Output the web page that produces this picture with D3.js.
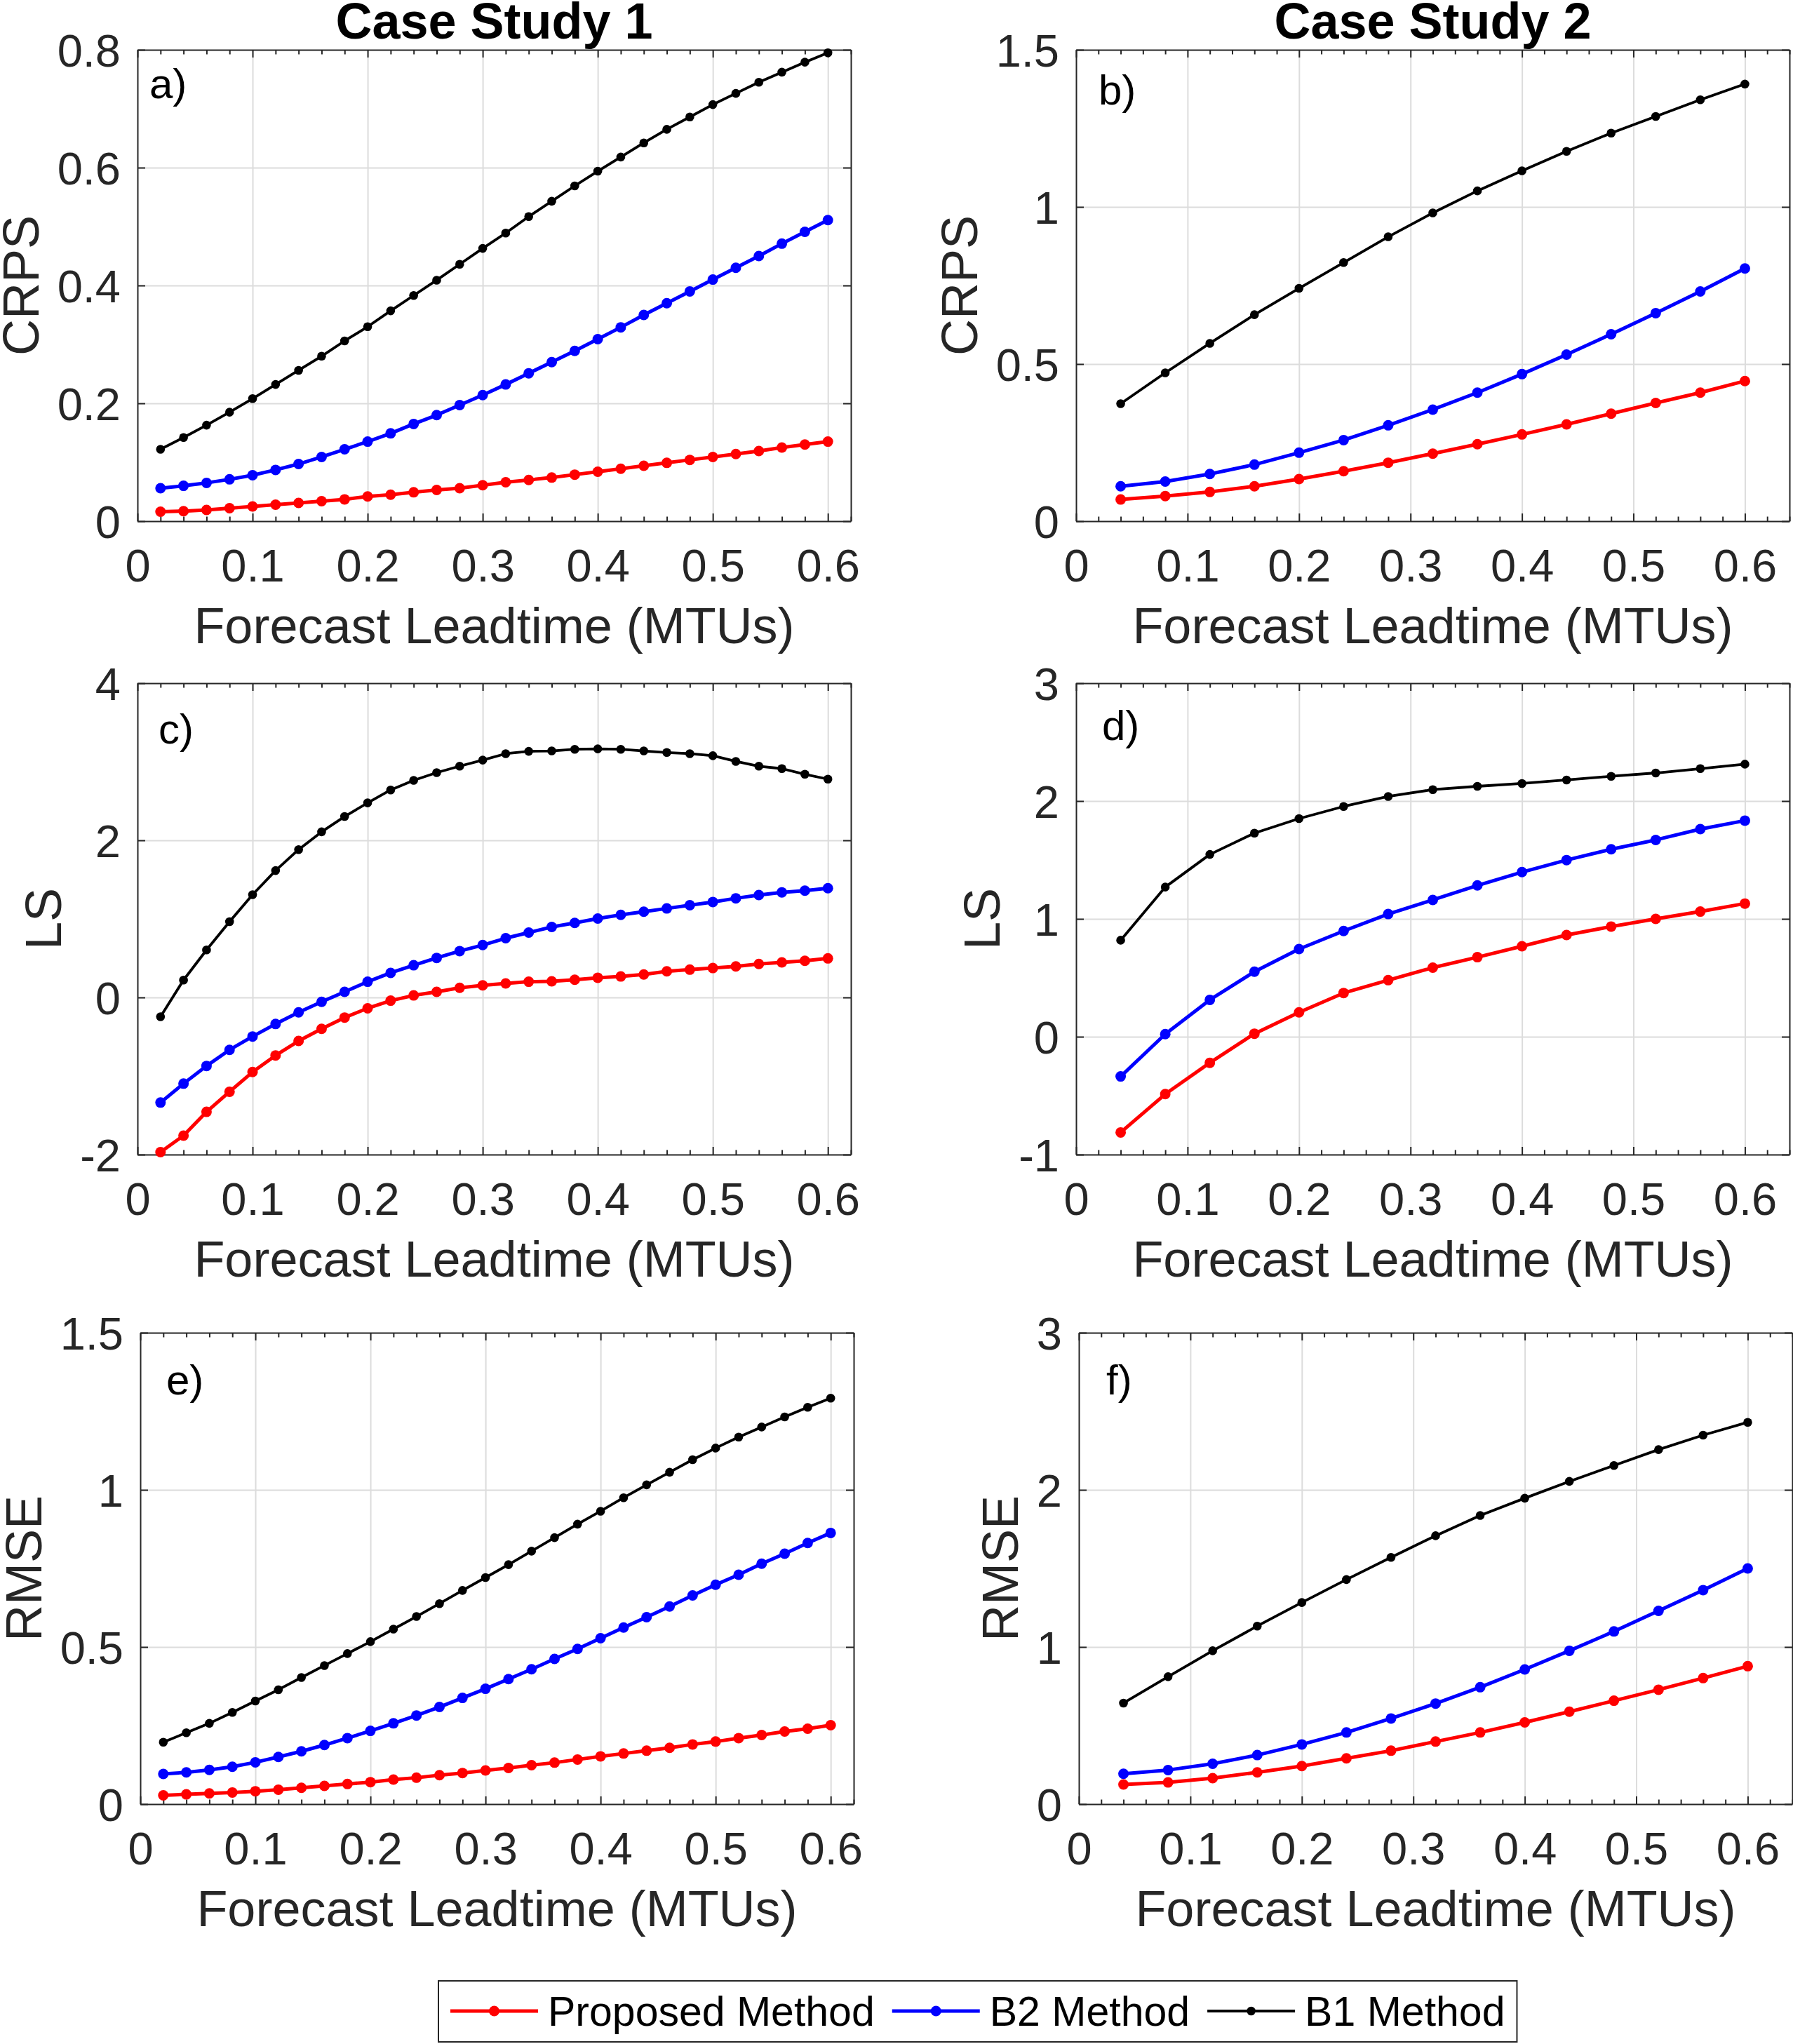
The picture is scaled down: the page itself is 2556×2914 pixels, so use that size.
<!DOCTYPE html>
<html>
<head>
<meta charset="utf-8">
<script src="https://cdn.jsdelivr.net/npm/d3@7"></script>
<style>
  html, body { margin: 0; padding: 0; background: #ffffff; }
  svg { display: block; }
</style>
</head>
<body>
<script>
// ---------------- DATA ----------------
const leadCase1 = [0.02,0.04,0.06,0.08,0.10,0.12,0.14,0.16,0.18,0.20,0.22,0.24,0.26,0.28,0.30,0.32,0.34,0.36,0.38,0.40,0.42,0.44,0.46,0.48,0.50,0.52,0.54,0.56,0.58,0.60];
const leadCase2 = [0.04,0.08,0.12,0.16,0.20,0.24,0.28,0.32,0.36,0.40,0.44,0.48,0.52,0.56,0.60];

const seriesNames = ["Proposed Method", "B2 Method", "B1 Method"];

const crpsCase1Proposed = [0.016,0.017,0.019,0.022,0.025,0.028,0.031,0.034,0.037,0.042,0.045,0.049,0.053,0.056,0.061,0.066,0.070,0.074,0.079,0.084,0.089,0.094,0.099,0.104,0.109,0.114,0.119,0.125,0.130,0.135];
const crpsCase1B2 = [0.056,0.060,0.065,0.071,0.078,0.087,0.097,0.109,0.122,0.135,0.149,0.165,0.180,0.197,0.214,0.232,0.251,0.270,0.289,0.309,0.329,0.350,0.370,0.390,0.410,0.430,0.450,0.471,0.491,0.511];
const crpsCase1B1 = [0.122,0.142,0.163,0.185,0.208,0.232,0.256,0.280,0.306,0.330,0.357,0.383,0.409,0.436,0.463,0.489,0.517,0.543,0.569,0.594,0.618,0.642,0.665,0.686,0.707,0.726,0.745,0.762,0.779,0.795];

const crpsCase2Proposed = [0.069,0.080,0.093,0.111,0.134,0.159,0.186,0.215,0.245,0.276,0.308,0.342,0.376,0.409,0.446];
const crpsCase2B2 = [0.111,0.126,0.150,0.180,0.218,0.258,0.305,0.355,0.409,0.468,0.530,0.595,0.662,0.731,0.804];
const crpsCase2B1 = [0.374,0.472,0.566,0.657,0.741,0.823,0.905,0.981,1.051,1.115,1.177,1.235,1.288,1.341,1.391];

const lsCase1Proposed = [-1.969,-1.759,-1.456,-1.200,-0.949,-0.738,-0.554,-0.400,-0.256,-0.138,-0.041,0.026,0.072,0.123,0.154,0.179,0.200,0.205,0.226,0.251,0.267,0.292,0.333,0.354,0.374,0.395,0.426,0.446,0.467,0.497];
const lsCase1B2 = [-1.338,-1.097,-0.872,-0.667,-0.497,-0.338,-0.190,-0.056,0.072,0.200,0.313,0.410,0.503,0.590,0.667,0.754,0.826,0.897,0.949,1.005,1.051,1.092,1.133,1.174,1.215,1.262,1.303,1.338,1.359,1.390];
const lsCase1B1 = [-0.246,0.221,0.605,0.964,1.308,1.615,1.882,2.108,2.303,2.477,2.641,2.764,2.862,2.944,3.021,3.103,3.133,3.138,3.159,3.164,3.159,3.138,3.118,3.103,3.077,3.005,2.944,2.913,2.841,2.779];

const lsCase2Proposed = [-0.812,-0.487,-0.221,0.026,0.207,0.371,0.480,0.586,0.675,0.768,0.863,0.935,1.000,1.062,1.130];
const lsCase2B2 = [-0.337,0.022,0.313,0.552,0.744,0.897,1.041,1.161,1.284,1.397,1.499,1.591,1.670,1.762,1.834];
const lsCase2B1 = [0.819,1.270,1.547,1.728,1.851,1.954,2.039,2.097,2.125,2.149,2.179,2.210,2.238,2.275,2.313];

const rmseCase1Proposed = [0.028,0.031,0.034,0.037,0.041,0.046,0.052,0.058,0.064,0.070,0.078,0.084,0.092,0.099,0.107,0.115,0.124,0.132,0.142,0.152,0.161,0.170,0.179,0.190,0.199,0.210,0.220,0.231,0.240,0.251];
const rmseCase1B2 = [0.096,0.101,0.109,0.119,0.133,0.150,0.168,0.188,0.210,0.233,0.257,0.282,0.309,0.338,0.367,0.398,0.429,0.462,0.494,0.528,0.562,0.595,0.629,0.664,0.698,0.730,0.765,0.797,0.831,0.863];
const rmseCase1B1 = [0.197,0.227,0.257,0.292,0.328,0.364,0.403,0.441,0.479,0.517,0.557,0.597,0.638,0.680,0.721,0.762,0.805,0.848,0.891,0.932,0.975,1.016,1.056,1.096,1.133,1.168,1.200,1.232,1.263,1.292];

const rmseCase2Proposed = [0.125,0.138,0.165,0.202,0.242,0.291,0.340,0.398,0.456,0.520,0.588,0.658,0.728,0.802,0.878];
const rmseCase2B2 = [0.193,0.217,0.257,0.312,0.380,0.456,0.545,0.640,0.744,0.857,0.976,1.099,1.230,1.362,1.500];
const rmseCase2B1 = [0.643,0.811,0.976,1.133,1.283,1.429,1.570,1.708,1.837,1.947,2.054,2.155,2.256,2.348,2.430];

// tick values and labels
const xTickValues = [0,0.1,0.2,0.3,0.4,0.5,0.6];
const xTickLabels = ["0","0.1","0.2","0.3","0.4","0.5","0.6"];
const yTicksCrps1 = [0,0.2,0.4,0.6,0.8];
const yLabelsCrps1 = ["0","0.2","0.4","0.6","0.8"];
const yTicksCrps2 = [0,0.5,1,1.5];
const yLabelsCrps2 = ["0","0.5","1","1.5"];
const yTicksLs1 = [-2,0,2,4];
const yLabelsLs1 = ["-2","0","2","4"];
const yTicksLs2 = [-1,0,1,2,3];
const yLabelsLs2 = ["-1","0","1","2","3"];
const yTicksRmse1 = [0,0.5,1,1.5];
const yLabelsRmse1 = ["0","0.5","1","1.5"];
const yTicksRmse2 = [0,1,2,3];
const yLabelsRmse2 = ["0","1","2","3"];

const titles = ["Case Study 1", "Case Study 2"];
const xAxisTitle = "Forecast Leadtime (MTUs)";

// ---------------- LAYOUT / STYLE ----------------
const W = 2556, H = 2914;
const PW = 1017, PH = 672;
const FONT = "'Liberation Sans', Arial, Helvetica, sans-serif";
const AX = "#262626";
const GRID = "#dcdcdc";
const colors = ["#ff0000", "#0000ff", "#000000"];
const lineWidths = [5, 5, 3.8];
const markerR = [7.5, 7.5, 6.3];

const panels = [
  {left:196, top:71,  xmax:0.62, ydom:[0,0.8], yt:yTicksCrps1, yl:yLabelsCrps1, ylabel:"CRPS", letter:"a)", ldx:17, ldy:69, x:leadCase1, ys:[crpsCase1Proposed, crpsCase1B2, crpsCase1B1], title:titles[0]},
  {left:1534, top:71, xmax:0.64, ydom:[0,1.5], yt:yTicksCrps2, yl:yLabelsCrps2, ylabel:"CRPS", letter:"b)", ldx:32, ldy:78, x:leadCase2, ys:[crpsCase2Proposed, crpsCase2B2, crpsCase2B1], title:titles[1]},
  {left:196, top:974, xmax:0.62, ydom:[-2,4], yt:yTicksLs1, yl:yLabelsLs1, ylabel:"LS", letter:"c)", ldx:30, ldy:86, x:leadCase1, ys:[lsCase1Proposed, lsCase1B2, lsCase1B1]},
  {left:1534, top:974, xmax:0.64, ydom:[-1,3], yt:yTicksLs2, yl:yLabelsLs2, ylabel:"LS", letter:"d)", ldx:37, ldy:81, x:leadCase2, ys:[lsCase2Proposed, lsCase2B2, lsCase2B1]},
  {left:200, top:1900, xmax:0.62, ydom:[0,1.5], yt:yTicksRmse1, yl:yLabelsRmse1, ylabel:"RMSE", letter:"e)", ldx:37, ldy:88, x:leadCase1, ys:[rmseCase1Proposed, rmseCase1B2, rmseCase1B1]},
  {left:1538, top:1900, xmax:0.64, ydom:[0,3], yt:yTicksRmse2, yl:yLabelsRmse2, ylabel:"RMSE", letter:"f)", ldx:39, ldy:88, x:leadCase2, ys:[rmseCase2Proposed, rmseCase2B2, rmseCase2B1]}
];

const svg = d3.select("body").append("svg")
  .attr("width", W).attr("height", H)
  .attr("viewBox", `0 0 ${W} ${H}`);
svg.append("rect").attr("width", W).attr("height", H).attr("fill", "#ffffff");

function styleAxis(g, fontSize) {
  g.attr("font-family", FONT).attr("font-size", fontSize);
  g.selectAll("path.domain").attr("stroke", AX).attr("stroke-width", 2);
  g.selectAll(".tick line").attr("stroke", AX).attr("stroke-width", 2);
  g.selectAll(".tick text").attr("fill", AX);
}

panels.forEach(p => {
  const x = d3.scaleLinear().domain([0, p.xmax]).range([p.left, p.left + PW]);
  const y = d3.scaleLinear().domain(p.ydom).range([p.top + PH, p.top]);
  const g = svg.append("g");
  const bottom = p.top + PH, right = p.left + PW;

  // grid
  const gx = g.append("g").attr("transform", `translate(0,${bottom})`)
    .call(d3.axisBottom(x).tickValues(xTickValues.filter(v => v > 0)).tickSize(-PH).tickFormat(""));
  gx.select(".domain").remove();
  gx.selectAll(".tick line").attr("stroke", GRID).attr("stroke-width", 2);
  const gy = g.append("g").attr("transform", `translate(${p.left},0)`)
    .call(d3.axisLeft(y).tickValues(p.yt.filter(v => v > p.ydom[0] && v < p.ydom[1])).tickSize(-PW).tickFormat(""));
  gy.select(".domain").remove();
  gy.selectAll(".tick line").attr("stroke", GRID).attr("stroke-width", 2);

  // minor ticks (x) bottom & top
  const minor = d3.range(1, Math.round(p.xmax / 0.02) + 1).map(i => +(i * 0.02).toFixed(2)).filter(v => Math.abs(v * 10 - Math.round(v * 10)) > 1e-6);
  const mb = g.append("g").attr("transform", `translate(0,${bottom})`)
    .call(d3.axisBottom(x).tickValues(minor).tickSizeInner(-6.5).tickSizeOuter(0).tickFormat(""));
  mb.select(".domain").remove();
  styleAxis(mb, 65);
  const mt = g.append("g").attr("transform", `translate(0,${p.top})`)
    .call(d3.axisTop(x).tickValues(minor).tickSizeInner(-6.5).tickSizeOuter(0).tickFormat(""));
  mt.select(".domain").remove();
  styleAxis(mt, 65);

  // major axes
  const ab = g.append("g").attr("transform", `translate(0,${bottom})`)
    .call(d3.axisBottom(x).tickValues(xTickValues).tickSizeInner(-11).tickSizeOuter(0).tickPadding(40)
      .tickFormat((d, i) => xTickLabels[i]));
  styleAxis(ab, 65);
  const at = g.append("g").attr("transform", `translate(0,${p.top})`)
    .call(d3.axisTop(x).tickValues(xTickValues).tickSizeInner(-11).tickSizeOuter(0).tickFormat(""));
  styleAxis(at, 65);
  const al = g.append("g").attr("transform", `translate(${p.left},0)`)
    .call(d3.axisLeft(y).tickValues(p.yt).tickSizeInner(-11).tickSizeOuter(0).tickPadding(24)
      .tickFormat((d, i) => p.yl[i]));
  styleAxis(al, 65);
  al.selectAll(".tick text").attr("dy", "0.36em");
  const ar = g.append("g").attr("transform", `translate(${right},0)`)
    .call(d3.axisRight(y).tickValues(p.yt).tickSizeInner(-11).tickSizeOuter(0).tickFormat(""));
  styleAxis(ar, 65);

  // series
  const line = d3.line().x((d, i) => x(p.x[i])).y(d => y(d));
  p.ys.forEach((vals, s) => {
    g.append("path").datum(vals)
      .attr("d", line)
      .attr("fill", "none")
      .attr("stroke", colors[s])
      .attr("stroke-width", lineWidths[s])
      .attr("stroke-linejoin", "round");
    g.append("g").selectAll("circle").data(vals).join("circle")
      .attr("cx", (d, i) => x(p.x[i]))
      .attr("cy", d => y(d))
      .attr("r", markerR[s])
      .attr("fill", colors[s]);
  });

  // panel letter
  g.append("text").attr("x", p.left + p.ldx).attr("y", p.top + p.ldy)
    .attr("font-family", FONT).attr("font-size", 60).attr("fill", "#000")
    .text(p.letter);

  // x axis title
  g.append("text").attr("x", (p.left + right) / 2).attr("y", bottom + 174)
    .attr("text-anchor", "middle").attr("font-family", FONT).attr("font-size", 72)
    .attr("fill", AX).text(xAxisTitle);

  // y axis title: placed left of widest tick label
  let minLeft = p.left - 24;
  al.selectAll(".tick text").each(function () {
    const w = this.getComputedTextLength();
    minLeft = Math.min(minLeft, p.left - 24 - w);
  });
  const yx = minLeft - 27;
  g.append("text")
    .attr("transform", `translate(${yx},${(p.top + bottom) / 2}) rotate(-90)`)
    .attr("text-anchor", "middle").attr("font-family", FONT).attr("font-size", 72)
    .attr("fill", AX).text(p.ylabel);

  if (p.title) {
    g.append("text").attr("x", (p.left + right) / 2).attr("y", 55)
      .attr("text-anchor", "middle").attr("font-family", FONT).attr("font-size", 72)
      .attr("font-weight", "bold").attr("fill", "#000").text(p.title);
  }
});

// ---------------- LEGEND ----------------
const legLeft = 625, legTop = 2824, legH = 87;
const leg = svg.append("g");
const legRect = leg.append("rect").attr("x", legLeft).attr("y", legTop).attr("height", legH)
  .attr("fill", "#ffffff").attr("stroke", AX).attr("stroke-width", 2);
let cx = legLeft + 17;
const midY = legTop + 43;
seriesNames.forEach((name, s) => {
  leg.append("line").attr("x1", cx).attr("x2", cx + 125).attr("y1", midY).attr("y2", midY)
    .attr("stroke", colors[s]).attr("stroke-width", lineWidths[s]);
  leg.append("circle").attr("cx", cx + 62.5).attr("cy", midY).attr("r", markerR[s]).attr("fill", colors[s]);
  const t = leg.append("text").attr("x", cx + 139).attr("y", legTop + 64)
    .attr("font-family", FONT).attr("font-size", 59).attr("fill", "#000").text(name);
  const w = t.node().getComputedTextLength();
  cx = cx + 139 + w + 25;
});
legRect.attr("width", (cx - 25 + 17) - legLeft);
</script>
</body>
</html>
